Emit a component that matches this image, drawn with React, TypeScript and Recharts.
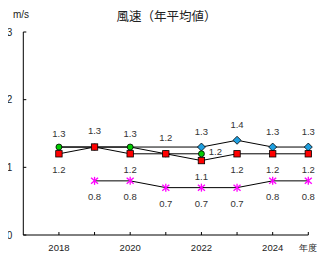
import { LineChart, Line, XAxis, YAxis, LabelList } from 'recharts'

const years = [2018, 2019, 2020, 2021, 2022, 2023, 2024, 2025]
const blueSeries = [1.3, 1.3, 1.3, null, 1.3, 1.4, 1.3, 1.3]
const greenSeries = [1.3, 1.3, 1.3, 1.2, 1.2, null, null, null]
const redSeries = [1.2, 1.3, 1.2, 1.2, 1.1, 1.2, 1.2, 1.2]
const pinkSeries = [null, 0.8, 0.8, 0.7, 0.7, 0.7, 0.8, 0.8]
const yTicks = [0, 1, 2, 3]

const data = years.map((year, i) => ({
  year,
  blue: blueSeries[i],
  green: greenSeries[i],
  red: redSeries[i],
  pink: pinkSeries[i],
}))

const FONT = '"Liberation Sans", Arial, sans-serif'
const LABEL_COLOR = '#333'

// blue markers only from the year the new station starts
const BLUE_FROM = 2022
// red labels that sit above their point instead of below
const RED_ABOVE = [2019, 2021]

function XTick({ x, y, payload }: any) {
  const v = payload.value as number
  const text = v === 2025 ? '年度' : v % 2 === 0 ? String(v) : ''
  return (
    <g>
      <line x1={x} x2={x} y1={y} y2={y - 3} stroke="#000" />
      <text x={x} y={y + 16} textAnchor="middle" fill="#222" fontSize={v === 2025 ? 9 : 9.5} fontFamily={FONT}>
        {text}
      </text>
    </g>
  )
}

function YTick({ x, y, payload }: any) {
  return (
    <g>
      <line x1={x} x2={x + 3} y1={y} y2={y} stroke="#000" />
      <text x={x - 11} y={y + 3.5} textAnchor="end" fill="#222" fontSize={10} fontFamily={FONT}>
        {payload.value}
      </text>
    </g>
  )
}

const square = (p: any) =>
  p.cy == null ? <g key={p.index} /> : (
    <rect key={p.index} x={p.cx - 3.2} y={p.cy - 3.2} width={6.4} height={6.4} fill="#FF0000" stroke="#000" strokeWidth={0.8} />
  )

const circle = (p: any) =>
  p.cy == null ? <g key={p.index} /> : (
    <circle key={p.index} cx={p.cx} cy={p.cy} r={3} fill="#00CC00" stroke="#000" strokeWidth={0.8} />
  )

const diamond = (p: any) => {
  if (p.cy == null || p.payload.year < BLUE_FROM) return <g key={p.index} />
  const { cx, cy } = p
  return (
    <path key={p.index} d={`M${cx},${cy - 4}L${cx + 4},${cy}L${cx},${cy + 4}L${cx - 4},${cy}Z`}
      fill="#1E9FE0" stroke="#000" strokeWidth={0.8} />
  )
}

const star = (p: any) => {
  if (p.cy == null) return <g key={p.index} />
  const { cx, cy } = p
  return (
    <g key={p.index} stroke="#FF00FF" strokeWidth={1.3}>
      <line x1={cx} x2={cx} y1={cy - 4} y2={cy + 4} />
      <line x1={cx - 3.5} x2={cx + 3.5} y1={cy - 3} y2={cy + 3} />
      <line x1={cx - 3.5} x2={cx + 3.5} y1={cy + 3} y2={cy - 3} />
    </g>
  )
}

const fmt = (v: number) => v.toFixed(1)

function label(dy: number, dx = 0, skip?: (i: number) => boolean) {
  return (p: any) => {
    if (p.value == null || (skip && skip(p.index))) return null
    return (
      <text x={p.x + dx} y={p.y + dy} textAnchor="middle" fill={LABEL_COLOR} fontSize={9.5} fontFamily={FONT}>
        {fmt(p.value)}
      </text>
    )
  }
}

export default function App() {
  return (
    <div style={{ position: 'relative', width: 316, height: 248 }}>
      <div style={{ position: 'absolute', left: 4, top: 0, width: 309, textAlign: 'center', fontSize: 12.5, lineHeight: '16px', fontFamily: '"Noto Sans CJK JP", sans-serif', color: '#222' }}>
        風速（年平均値）
      </div>
      <div style={{ position: 'absolute', left: 5, top: 0, fontSize: 10, lineHeight: '14px', fontFamily: FONT, color: '#222' }}>
        m/s
      </div>
      <LineChart width={316} height={248} data={data} margin={{ top: 24, right: 15.7, left: 0, bottom: 0 }}>
        <XAxis
          dataKey="year"
          type="number"
          domain={[2017, 2025]}
          ticks={years}
          interval={0}
          tickSize={0}
          tickMargin={0}
          tickLine={false}
          axisLine={{ stroke: '#000' }}
          tick={<XTick />}
          height={21}
        />
        <YAxis
          domain={[0, 3]}
          ticks={yTicks}
          interval={0}
          tickSize={0}
          tickMargin={0}
          tickLine={false}
          axisLine={{ stroke: '#000' }}
          tick={<YTick />}
          width={15.3}
        />
        <Line dataKey="blue" stroke="#000" strokeWidth={1} connectNulls dot={diamond} activeDot={false} isAnimationActive={false}>
          <LabelList dataKey="blue" content={label(-12, 0, (i) => years[i] < BLUE_FROM)} />
        </Line>
        <Line dataKey="green" stroke="#000" strokeWidth={1} dot={circle} activeDot={false} isAnimationActive={false}>
          <LabelList dataKey="green" content={(p: any) => {
            const yr = years[p.index]
            if (p.value == null || yr === 2019 || yr === 2021) return null
            if (yr === 2022) return label(1.5, 14)(p)
            return label(-10)(p)
          }} />
        </Line>
        <Line dataKey="red" stroke="#000" strokeWidth={1} dot={square} activeDot={false} isAnimationActive={false}>
          <LabelList dataKey="red" content={(p: any) => {
            const above = RED_ABOVE.includes(years[p.index])
            return above ? label(-13)(p) : label(19)(p)
          }} />
        </Line>
        <Line dataKey="pink" stroke="#000" strokeWidth={1} dot={star} activeDot={false} isAnimationActive={false}>
          <LabelList dataKey="pink" content={label(19)} />
        </Line>
      </LineChart>
    </div>
  )
}
